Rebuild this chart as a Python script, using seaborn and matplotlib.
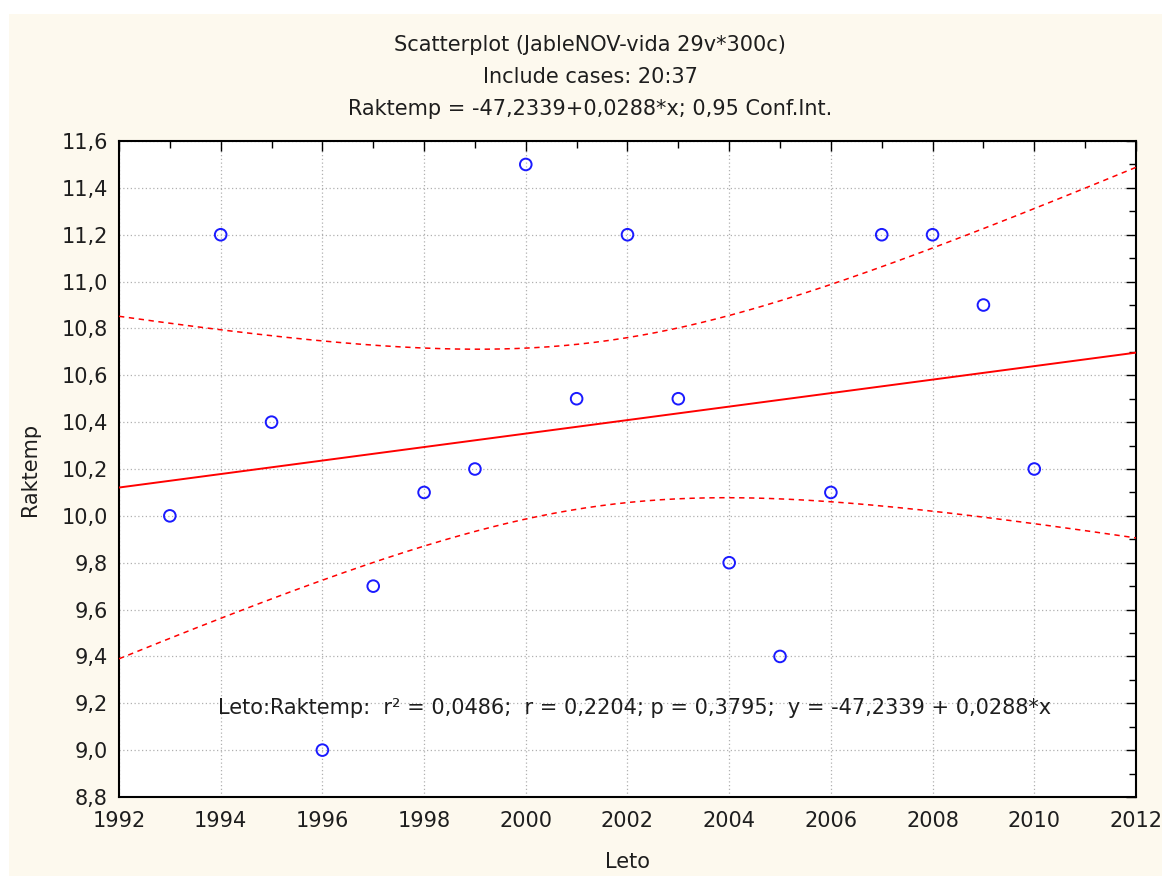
import numpy as np
import pandas as pd
import matplotlib
matplotlib.use("Agg")
import matplotlib.pyplot as plt
from matplotlib.patches import Rectangle
from matplotlib.ticker import MultipleLocator, FixedLocator
import seaborn as sns

# ---- data ----
years = [1993, 1994, 1995, 1996, 1997, 1998, 1999, 2000, 2001, 2002,
         2003, 2004, 2005, 2006, 2007, 2008, 2009, 2010]
raktemp = [10.0, 11.2, 10.4, 9.0, 9.7, 10.1, 10.2, 11.5, 10.5, 11.2,
           10.5, 9.8, 9.4, 10.1, 11.2, 11.2, 10.9, 10.2]
x_ticks = [1992, 1994, 1996, 1998, 2000, 2002, 2004, 2006, 2008, 2010, 2012]
y_ticks = [8.8, 9.0, 9.2, 9.4, 9.6, 9.8, 10.0, 10.2, 10.4, 10.6, 10.8,
           11.0, 11.2, 11.4, 11.6]
y_tick_labels = ["8,8", "9,0", "9,2", "9,4", "9,6", "9,8", "10,0", "10,2",
                 "10,4", "10,6", "10,8", "11,0", "11,2", "11,4", "11,6"]
title_lines = ["Scatterplot (JableNOV-vida 29v*300c)",
               "Include cases: 20:37",
               "Raktemp = -47,2339+0,0288*x; 0,95 Conf.Int."]
stats_text = "Leto:Raktemp:  r² = 0,0486;  r = 0,2204; p = 0,3795;  y = -47,2339 + 0,0288*x"
t_crit = 2.1199  # t(0.975, df=16)

df = pd.DataFrame({"Leto": years, "Raktemp": raktemp})

# regression + 95% confidence interval for the mean
x = np.asarray(years, float)
y = np.asarray(raktemp, float)
n = len(x)
slope, intercept = np.polyfit(x, y, 1)
resid = y - (intercept + slope * x)
s = np.sqrt(np.sum(resid ** 2) / (n - 2))
sxx = np.sum((x - x.mean()) ** 2)
xs = np.linspace(x_ticks[0], x_ticks[-1], 200)
yhat = intercept + slope * xs
half = t_crit * s * np.sqrt(1.0 / n + (xs - x.mean()) ** 2 / sxx)
fit_df = pd.DataFrame({"x": xs, "fit": yhat, "lo": yhat - half, "hi": yhat + half})

sns.set_theme(style="white")
plt.rcParams["font.family"] = ["DejaVu Sans"]

txt = "#1e1e1e"
bg = "#fdf9ee"
fig = plt.figure(figsize=(11.62, 8.76), dpi=100, facecolor="white")
fig.patches.append(Rectangle((9 / 1162, 0), 1 - 9 / 1162, 1 - 14 / 876,
                             transform=fig.transFigure, facecolor=bg,
                             edgecolor="none", zorder=-10))
ax = fig.add_axes([0.1024, 0.0902, 0.8752, 0.7488])
ax.set_facecolor("white")

sns.lineplot(data=fit_df, x="x", y="fit", ax=ax, color="#ff0000", lw=1.4, zorder=3)
sns.lineplot(data=fit_df, x="x", y="lo", ax=ax, color="#ff0000", lw=1.1, zorder=3)
ax.lines[-1].set_dashes([3.5, 3])
sns.lineplot(data=fit_df, x="x", y="hi", ax=ax, color="#ff0000", lw=1.1, zorder=3)
ax.lines[-1].set_dashes([3.5, 3])
sns.scatterplot(data=df, x="Leto", y="Raktemp", ax=ax, marker="o", s=70,
                facecolor="none", edgecolor="#1a1aff", linewidth=1.4, zorder=4)

ax.set_xlim(x_ticks[0], x_ticks[-1])
ax.set_ylim(y_ticks[0], y_ticks[-1])
ax.xaxis.set_major_locator(FixedLocator(x_ticks))
ax.set_xticklabels([str(v) for v in x_ticks])
ax.xaxis.set_minor_locator(MultipleLocator(1))
ax.yaxis.set_major_locator(FixedLocator(y_ticks))
ax.set_yticklabels(y_tick_labels)
ax.yaxis.set_minor_locator(MultipleLocator(0.1))
ax.tick_params(which="both", direction="in", colors="black", labelcolor=txt,
               labelsize=15, top=True, right=True)
ax.tick_params(axis="x", which="major", pad=10)
ax.tick_params(axis="y", which="major", pad=8)
ax.tick_params(which="major", length=7, width=1)
ax.tick_params(which="minor", length=5, width=1)
ax.grid(True, which="major", color="#b0b0b0", linestyle=(0, (1, 2)), lw=0.9)
for sp in ax.spines.values():
    sp.set_color("black")
    sp.set_linewidth(1.5)

ax.set_xlabel("Leto", fontsize=15, color=txt, va="center")
ax.set_ylabel("Raktemp", fontsize=15, color=txt, va="center")
ax.xaxis.set_label_coords(0.5, -0.099)
ax.yaxis.set_label_coords(-0.0875, 0.5)

ax.text(1993.95, 9.18, stats_text, fontsize=15, color=txt, ha="left", va="center")

for i, line in enumerate(title_lines):
    fig.text(0.508, 1 - (45 + i * 32) / 876, line, fontsize=15, color=txt,
             ha="center", va="center")

fig.savefig("out.png", dpi=100, facecolor="white")
